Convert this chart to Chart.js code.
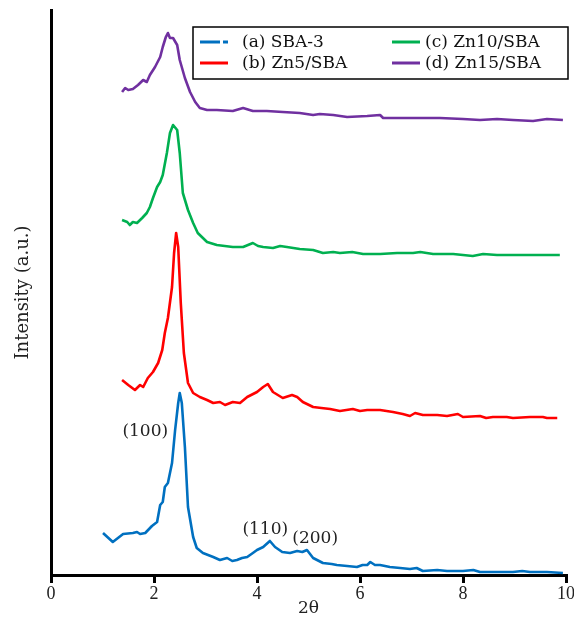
<!DOCTYPE html>
<html>
<head>
<meta charset="utf-8">
<script src="https://cdn.jsdelivr.net/npm/chart.js@4/dist/chart.umd.min.js"></script>
<style>
  html, body { margin: 0; padding: 0; background: #fff; }
  #wrap { width: 574px; height: 623px; }
</style>
</head>
<body>
<div id="wrap"><canvas id="xrdChart" width="574" height="623"></canvas></div>
<script>
// values (2theta, intensity in a.u.)
const sbaX = [1.01, 1.20, 1.40, 1.59, 1.67, 1.73, 1.83, 1.96, 2.06, 2.12, 2.17, 2.21, 2.27, 2.35, 2.41, 2.47, 2.50, 2.54, 2.60, 2.66, 2.76, 2.83, 2.95, 3.05, 3.15, 3.28, 3.42, 3.52, 3.61, 3.71, 3.81, 3.92, 4.00, 4.12, 4.25, 4.35, 4.49, 4.64, 4.78, 4.88, 4.97, 5.09, 5.28, 5.45, 5.55, 5.75, 5.94, 6.05, 6.14, 6.20, 6.29, 6.39, 6.58, 6.78, 6.97, 7.10, 7.22, 7.50, 7.69, 8.00, 8.20, 8.33, 8.66, 8.97, 9.15, 9.30, 9.63, 9.94];
const sbaY = [42, 33, 41, 42, 43, 41, 42, 49, 53, 70, 73, 88, 92, 112, 145, 172, 182, 172, 128, 68, 38, 27, 22, 20, 18, 15, 17, 14, 15, 17, 18, 22, 25, 28, 34, 28, 23, 22, 24, 23, 25, 17, 12, 11, 10, 9, 8, 10, 10, 13, 10, 10, 8, 7, 6, 7, 4, 5, 4, 4, 5, 3, 3, 3, 4, 3, 3, 2];

const zn5X = [1.38, 1.50, 1.63, 1.73, 1.79, 1.88, 1.98, 2.08, 2.16, 2.21, 2.27, 2.35, 2.39, 2.43, 2.47, 2.52, 2.58, 2.66, 2.76, 2.89, 3.03, 3.15, 3.28, 3.38, 3.53, 3.67, 3.81, 4.00, 4.12, 4.21, 4.31, 4.50, 4.68, 4.78, 4.89, 5.09, 5.25, 5.42, 5.61, 5.86, 6.00, 6.14, 6.39, 6.64, 6.83, 6.97, 7.07, 7.22, 7.50, 7.69, 7.90, 8.00, 8.33, 8.45, 8.58, 8.85, 8.97, 9.30, 9.55, 9.63, 9.83];
const zn5Y = [195, 190, 185, 190, 188, 197, 203, 212, 225, 242, 257, 288, 322, 342, 328, 272, 222, 192, 182, 178, 175, 172, 173, 170, 173, 172, 178, 183, 188, 191, 183, 177, 180, 178, 173, 168, 167, 166, 164, 166, 164, 165, 165, 163, 161, 159, 162, 160, 160, 159, 161, 158, 159, 157, 158, 158, 157, 158, 158, 157, 157];

const zn10X = [1.38, 1.48, 1.53, 1.59, 1.67, 1.77, 1.86, 1.92, 1.98, 2.06, 2.12, 2.17, 2.25, 2.31, 2.37, 2.45, 2.50, 2.56, 2.66, 2.76, 2.85, 2.95, 3.03, 3.22, 3.53, 3.73, 3.92, 4.02, 4.12, 4.31, 4.45, 4.58, 4.83, 5.09, 5.28, 5.48, 5.61, 5.85, 6.06, 6.39, 6.72, 7.03, 7.17, 7.42, 7.81, 8.19, 8.39, 8.66, 8.97, 9.30, 9.63, 9.88];
const zn10Y = [355, 353, 350, 353, 352, 357, 362, 368, 377, 388, 393, 400, 422, 442, 450, 445, 422, 382, 365, 352, 342, 337, 333, 330, 328, 328, 332, 329, 328, 327, 329, 328, 326, 325, 322, 323, 322, 323, 321, 321, 322, 322, 323, 321, 321, 319, 321, 320, 320, 320, 320, 320];

const zn15X = [1.38, 1.44, 1.50, 1.59, 1.69, 1.79, 1.86, 1.92, 2.02, 2.12, 2.17, 2.23, 2.27, 2.31, 2.37, 2.45, 2.50, 2.60, 2.70, 2.80, 2.89, 3.03, 3.22, 3.53, 3.73, 3.92, 4.19, 4.50, 4.83, 5.09, 5.22, 5.48, 5.75, 6.14, 6.39, 6.45, 6.72, 7.17, 7.55, 8.00, 8.33, 8.66, 8.97, 9.36, 9.63, 9.94];
const zn15Y = [483, 487, 485, 486, 490, 495, 493, 500, 508, 518, 528, 538, 542, 537, 537, 530, 515, 497, 483, 473, 467, 465, 465, 464, 467, 464, 464, 463, 462, 460, 461, 460, 458, 459, 460, 457, 457, 457, 457, 456, 455, 456, 455, 454, 456, 455];

const seriesNames = ['(a) SBA-3', '(b) Zn5/SBA', '(c) Zn10/SBA', '(d) Zn15/SBA'];
const seriesColors = ['#0070c0', '#ff0000', '#00b050', '#7030a0'];

const xTicks = [0, 2, 4, 6, 8, 10];

const peakLabels = ['(100)', '(110)', '(200)'];
const peakLabelX = [1.83, 4.16, 5.13];
const peakLabelY = [143, 45, 36];

const serif = "'DejaVu Serif', 'Liberation Serif', serif";
const digitSerif = "'Liberation Serif', 'DejaVu Serif', serif";

function toPoints(xs, ys) {
    return xs.map((x, i) => ({ x: x, y: ys[i] }));
}

// peak labels next to the SBA-3 curve
const peakLabelPlugin = {
    id: 'peakLabels',
    afterDatasetsDraw(chart) {
        const ctx = chart.ctx;
        const xs = chart.scales.x, ys = chart.scales.y;
        ctx.save();
        ctx.font = '17px ' + serif;
        ctx.fillStyle = '#222';
        ctx.textAlign = 'center';
        ctx.textBaseline = 'middle';
        peakLabels.forEach((t, i) => {
            ctx.fillText(t, xs.getPixelForValue(peakLabelX[i]), ys.getPixelForValue(peakLabelY[i]));
        });
        ctx.restore();
    }
};

// two column boxed legend (a,b left / c,d right)
const boxLegendPlugin = {
    id: 'boxLegend',
    afterDraw(chart) {
        const ctx = chart.ctx;
        const area = chart.chartArea;
        const left = area.right - 373, top = area.top + 17;
        const w = 375, h = 52;
        ctx.save();
        ctx.fillStyle = '#fff';
        ctx.fillRect(left, top, w, h);
        ctx.strokeStyle = '#000';
        ctx.lineWidth = 1.5;
        ctx.strokeRect(left, top, w, h);
        ctx.font = '17px ' + serif;
        ctx.textBaseline = 'middle';
        ctx.fillStyle = '#111';
        chart.data.datasets.forEach((ds, i) => {
            const col = i < 2 ? 0 : 1;
            const row = i % 2;
            const lx = left + 7 + col * 192;
            const ly = top + 15 + row * 21;
            ctx.strokeStyle = ds.borderColor;
            ctx.lineWidth = 3;
            ctx.setLineDash(i === 0 ? [20, 3, 6, 100] : []);
            ctx.beginPath();
            ctx.moveTo(lx, ly);
            ctx.lineTo(lx + 28, ly);
            ctx.stroke();
            ctx.setLineDash([]);
            ctx.fillText(ds.label, lx + (col === 0 ? 42 : 33), ly + 1);
        });
        ctx.restore();
    }
};

const ctx = document.getElementById('xrdChart').getContext('2d');
const xrdChart = new Chart(ctx, {
    type: 'line',
    data: {
        datasets: [
            { label: seriesNames[0], data: toPoints(sbaX, sbaY), borderColor: seriesColors[0] },
            { label: seriesNames[1], data: toPoints(zn5X, zn5Y), borderColor: seriesColors[1] },
            { label: seriesNames[2], data: toPoints(zn10X, zn10Y), borderColor: seriesColors[2] },
            { label: seriesNames[3], data: toPoints(zn15X, zn15Y), borderColor: seriesColors[3] }
        ]
    },
    options: {
        responsive: false,
        animation: false,
        layout: { padding: { left: 0, right: 8, top: 10, bottom: 0 } },
        elements: {
            point: { radius: 0 },
            line: { borderWidth: 2.6, tension: 0, borderJoinStyle: 'round' }
        },
        plugins: {
            legend: { display: false },
            tooltip: { enabled: false }
        },
        scales: {
            x: {
                type: 'linear',
                min: 0,
                max: 10,
                afterBuildTicks: scale => { scale.ticks = xTicks.map(v => ({ value: v })); },
                afterFit: scale => {
                    scale.height = 48;
                    scale.paddingLeft = 0;
                    scale.paddingRight = 0;
                },
                ticks: { color: '#222', font: { family: digitSerif, size: 18 }, padding: 0, maxRotation: 0 },
                grid: { drawOnChartArea: false, drawTicks: true, tickLength: 8, lineWidth: 3, color: '#000' },
                border: { display: true, width: 3, color: '#000' },
                title: { display: true, text: '2θ', color: '#222', font: { family: serif, size: 17 }, padding: { top: 0, bottom: 4 } }
            },
            y: {
                min: 0,
                max: 565,
                afterFit: scale => { scale.width = 51; },
                ticks: { display: false },
                grid: { display: false },
                border: { display: true, width: 3, color: '#000' },
                title: { display: true, text: 'Intensity (a.u.)', color: '#222', font: { family: serif, size: 18 }, padding: { top: 13, bottom: 0 } }
            }
        }
    },
    plugins: [peakLabelPlugin, boxLegendPlugin]
});
</script>
</body>
</html>
